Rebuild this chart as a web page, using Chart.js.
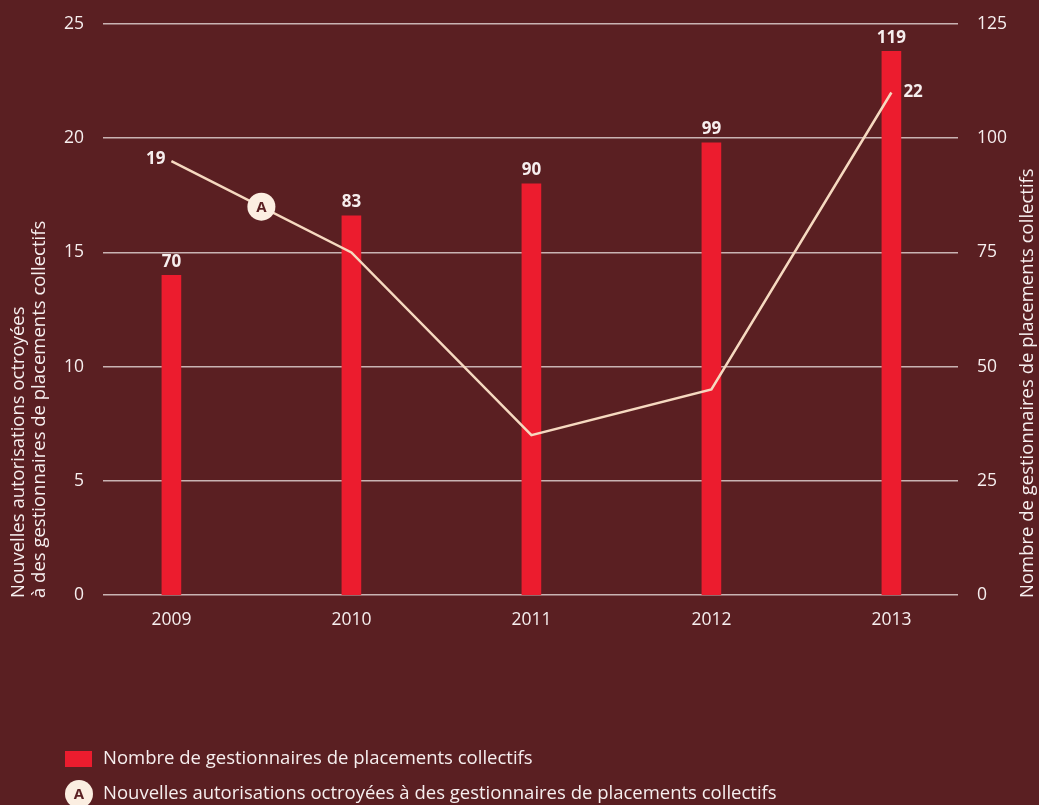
<!DOCTYPE html>
<html>
<head>
<meta charset="utf-8">
<script src="https://cdn.jsdelivr.net/npm/chart.js@4"></script>
<style>
    html, body { margin: 0; padding: 0; background: #5a1f22; }
    #wrap { width: 1039px; height: 805px; }
</style>
</head>
<body>
<div id="wrap"><canvas id="chart" width="1039" height="805"></canvas></div>
<script>
// Chart data
const years = ['2009', '2010', '2011', '2012', '2013'];
const managers = [70, 83, 90, 99, 119];
const newAuthorisations = [19, 15, 7, 9, 22];
const leftTicks = [0, 5, 10, 15, 20, 25];
const rightTicks = [0, 25, 50, 75, 100, 125];

const BG = '#5a1f22';
const RED = '#ec1c2e';
const PEACH = '#f6d9c0';
const CREAM = '#fbeee1';
const TEXT = '#f6eeee';
const GRID = '#c9b3b3';
const FONT = "'Open Sans', 'Noto Sans', sans-serif";

/**
 * Draws the value labels, the "A" marker, the axis titles and the legend.
 */
const annotations = {
    id: 'annotations',
    afterDatasetsDraw(chart) {
        const ctx = chart.ctx;
        const area = chart.chartArea;
        const barMeta = chart.getDatasetMeta(0);
        const lineMeta = chart.getDatasetMeta(1);

        ctx.save();
        ctx.fillStyle = TEXT;
        ctx.font = `bold 17px ${FONT}`;
        ctx.textAlign = 'center';
        ctx.textBaseline = 'bottom';
        barMeta.data.forEach((bar, i) => {
            ctx.fillText(String(managers[i]), bar.x, bar.y - 5);
        });

        // first and last point of the line get a label
        const first = lineMeta.data[0];
        const last = lineMeta.data[lineMeta.data.length - 1];
        ctx.textBaseline = 'middle';
        ctx.textAlign = 'right';
        ctx.fillText(String(newAuthorisations[0]), first.x - 6, first.y - 2);
        ctx.textAlign = 'left';
        ctx.fillText(String(newAuthorisations[newAuthorisations.length - 1]), last.x + 12, last.y);

        // series marker half way along the first segment
        const p0 = lineMeta.data[0];
        const p1 = lineMeta.data[1];
        drawMarker(ctx, (p0.x + p1.x) / 2, (p0.y + p1.y) / 2);

        // axis titles, both reading bottom to top, anchored at the baseline
        ctx.fillStyle = TEXT;
        ctx.font = `18.5px ${FONT}`;
        ctx.textAlign = 'left';
        ctx.textBaseline = 'middle';
        const titleBottom = area.bottom + 3;
        [['Nouvelles autorisations octroyées', 19], ['à des gestionnaires de placements collectifs', 40],
         ['Nombre de gestionnaires de placements collectifs', 1028]].forEach(([txt, x]) => {
            ctx.save();
            ctx.translate(x, titleBottom);
            ctx.rotate(-Math.PI / 2);
            ctx.fillText(txt, 0, 0);
            ctx.restore();
        });

        // legend
        ctx.fillStyle = RED;
        ctx.fillRect(65, 751, 27, 16);
        drawMarker(ctx, 79, 794);
        ctx.fillStyle = TEXT;
        ctx.font = `18.5px ${FONT}`;
        ctx.textAlign = 'left';
        ctx.textBaseline = 'middle';
        ctx.fillText('Nombre de gestionnaires de placements collectifs', 103, 759);
        ctx.fillText('Nouvelles autorisations octroyées à des gestionnaires de placements collectifs', 103, 794);
        ctx.restore();
    }
};

function drawMarker(ctx, x, y) {
    ctx.save();
    ctx.beginPath();
    ctx.arc(x, y, 14, 0, Math.PI * 2);
    ctx.fillStyle = CREAM;
    ctx.fill();
    ctx.fillStyle = BG;
    ctx.font = `bold 15px ${FONT}`;
    ctx.textAlign = 'center';
    ctx.textBaseline = 'middle';
    ctx.fillText('A', x, y + 1);
    ctx.restore();
}

const background = {
    id: 'background',
    beforeDraw(chart) {
        const ctx = chart.ctx;
        ctx.save();
        ctx.fillStyle = BG;
        ctx.fillRect(0, 0, chart.width, chart.height);
        ctx.restore();
    }
};

const tickFont = { family: FONT, size: 17.5 };

// keep the plot area edges where the layout padding puts them
function fitVertical(width) {
    return (scale) => {
        scale.width = width;
        scale.paddingTop = 0;
        scale.paddingBottom = 0;
    };
}

new Chart(document.getElementById('chart'), {
    data: {
        datasets: [{
            type: 'bar',
            label: 'Nombre de gestionnaires de placements collectifs',
            data: managers.map((v, i) => ({ x: i, y: v })),
            backgroundColor: RED,
            barThickness: 19,
            yAxisID: 'y1',
            order: 2
        }, {
            type: 'line',
            label: 'Nouvelles autorisations octroyées à des gestionnaires de placements collectifs',
            data: newAuthorisations.map((v, i) => ({ x: i, y: v })),
            borderColor: PEACH,
            borderWidth: 2.5,
            pointRadius: 0,
            tension: 0,
            yAxisID: 'y',
            order: 1
        }]
    },
    options: {
        responsive: false,
        animation: false,
        layout: { padding: { top: 24, left: 0, right: 0, bottom: 0 } },
        plugins: {
            legend: { display: false },
            tooltip: { enabled: false }
        },
        scales: {
            x: {
                type: 'linear',
                offset: false,
                min: -0.38,
                max: 4.37,
                afterBuildTicks: (scale) => {
                    scale.ticks = years.map((y, i) => ({ value: i }));
                },
                afterFit: (scale) => { scale.height = 210; },
                grid: { display: false, offset: false },
                border: { display: false },
                ticks: {
                    callback: (v) => years[v],
                    color: TEXT,
                    font: tickFont,
                    padding: 7,
                    maxRotation: 0
                }
            },
            y: {
                position: 'left',
                min: 0,
                max: 25,
                afterBuildTicks: (scale) => {
                    scale.ticks = leftTicks.map(v => ({ value: v }));
                },
                afterFit: fitVertical(103),
                grid: { color: GRID, lineWidth: 1.5, drawTicks: false },
                border: { display: false },
                ticks: {
                    color: TEXT,
                    font: tickFont,
                    padding: 19
                }
            },
            y1: {
                position: 'right',
                min: 0,
                max: 125,
                afterBuildTicks: (scale) => {
                    scale.ticks = rightTicks.map(v => ({ value: v }));
                },
                afterFit: fitVertical(81),
                grid: { display: false, drawTicks: false },
                border: { display: false },
                ticks: {
                    color: TEXT,
                    font: tickFont,
                    padding: 19
                }
            }
        }
    },
    plugins: [background, annotations]
});
</script>
</body>
</html>
